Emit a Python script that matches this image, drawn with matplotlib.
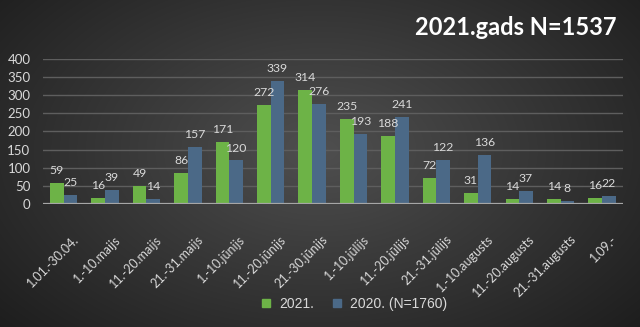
"""
Recreate the 2021 vs 2020 ten-day period bar chart.
"""

import matplotlib
matplotlib.use("Agg")
import matplotlib.pyplot as plt
import matplotlib.transforms as mtransforms
import numpy as np
from matplotlib.lines import Line2D

periods = ["1.01.-30.04.", "1.-10.maijs", "11.-20.maijs", "21.-31.maijs",
           "1.-10.jūnijs", "11.-20.jūnijs", "21.-30.jūnijs", "1.-10.jūlijs",
           "11.-20.jūlijs", "21.-31.jūlijs", "1.-10.augusts", "11.-20.augusts",
           "21.-31.augusts", "1.09.-"]
vals_2021 = [59, 16, 49, 86, 171, 272, 314, 235, 188, 72, 31, 14, 14, 16]
vals_2020 = [25, 39, 14, 157, 120, 339, 276, 193, 241, 122, 136, 37, 8, 22]
yticks = [0, 50, 100, 150, 200, 250, 300, 350, 400]

green = "#6db347"
blue = "#4b6987"
txt = "#d9d9d9"

fig = plt.figure(figsize=(6.4, 3.27), dpi=100)

# radial dark background
bg = fig.add_axes([0, 0, 1, 1], zorder=-10)
yy, xx = np.mgrid[0:327, 0:640]
d = np.sqrt(((xx - 320) / 420.0) ** 2 + ((yy - 150) / 260.0) ** 2)
shade = np.clip(0.31 - 0.19 * d, 0.11, 0.31)
bg.imshow(np.dstack([shade] * 3), aspect="auto", extent=[0, 1, 0, 1])
bg.axis("off")

ax = fig.add_axes([0.067, 0.376, 0.906, 0.444])
ax.set_facecolor("none")

x = np.arange(len(periods))
w = 0.33
b1 = ax.bar(x - w / 2, vals_2021, w, color=green, zorder=3)
b2 = ax.bar(x + w / 2, vals_2020, w, color=blue, zorder=3)

for bars in (b1, b2):
    for r in bars:
        ax.annotate(str(int(r.get_height())), (r.get_x() + r.get_width() / 2, r.get_height()),
                    xytext=(0, 5), textcoords="offset points", ha="center", va="bottom",
                    color=txt, fontsize=8.8, family="Lato", zorder=4)

ax.set_xlim(-0.5, len(periods) - 0.5)
ax.set_ylim(0, 400)
ax.set_yticks(yticks)
ax.yaxis.grid(True, color="#5e5e5e", lw=1, zorder=0)
ax.axhline(0, color="#a6a6a6", lw=1.6, zorder=5)
for s in ax.spines.values():
    s.set_visible(False)

ax.set_xticks(x)
ax.set_xticklabels(periods, rotation=45, ha="right", va="top", rotation_mode="anchor",
                   family="Lato", fontsize=9, color=txt)
ax.tick_params(axis="x", length=0, pad=21)
ax.tick_params(axis="y", length=0, pad=9, labelcolor=txt, labelsize=9.5)
for lab in ax.get_yticklabels():
    lab.set_family("Lato")
shift = mtransforms.ScaledTranslation(9 / 100, 0, fig.dpi_scale_trans)
for lab in ax.get_xticklabels():
    lab.set_transform(lab.get_transform() + shift)

fig.text(0.963, 0.917, "2021.gads N=1537", ha="right", va="center", color="white",
         fontsize=17, fontweight="bold", family="Lato")

handles = [Line2D([], [], marker="s", ls="", color=green, markersize=6),
           Line2D([], [], marker="s", ls="", color=blue, markersize=6)]
leg = fig.legend(handles, ["2021.", "2020. (N=1760)"], loc="center", ncol=2,
                 bbox_to_anchor=(0.553, 0.07), frameon=False, handlelength=0.8,
                 handletextpad=0.5, columnspacing=1.3,
                 prop={"family": "Liberation Sans", "size": 10})
for t in leg.get_texts():
    t.set_color(txt)

fig.savefig("out.png", dpi=100, facecolor="#2a2a2a")
